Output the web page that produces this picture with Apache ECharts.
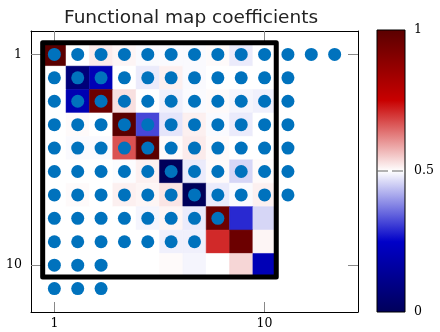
<!DOCTYPE html>
<html>
<head>
<meta charset="utf-8">
<script src="https://cdn.jsdelivr.net/npm/echarts@6/dist/echarts.min.js"></script>
<style>html,body{margin:0;padding:0;background:#fff}#c{width:440px;height:332px}</style>
</head>
<body>
<div id="c"></div>
<script>
// ---- data ----
const titleText = 'Functional map coefficients';
const xTickValues = [1, 10];
const yTickValues = [1, 10];
const cbarTickValues = [0, 0.5, 1];
// coefficient matrix, rows = y (1..10), columns = x (1..10)
const row1  = [1.00, 0.50, 0.52, 0.51, 0.495, 0.495, 0.495, 0.505, 0.48, 0.50];
const row2  = [0.50, 0.07, 0.21, 0.50, 0.48, 0.515, 0.495, 0.50, 0.50, 0.50];
const row3  = [0.50, 0.20, 0.96, 0.53, 0.50, 0.485, 0.495, 0.505, 0.49, 0.485];
const row4  = [0.50, 0.505, 0.50, 1.00, 0.32, 0.475, 0.515, 0.495, 0.48, 0.50];
const row5  = [0.50, 0.495, 0.495, 0.67, 1.00, 0.505, 0.52, 0.505, 0.50, 0.50];
const row6  = [0.50, 0.50, 0.50, 0.497, 0.515, 0.00, 0.48, 0.505, 0.46, 0.505];
const row7  = [0.50, 0.505, 0.50, 0.515, 0.51, 0.525, 0.00, 0.48, 0.495, 0.515];
const row8  = [0.50, 0.50, 0.50, 0.50, 0.49, 0.51, 0.48, 0.96, 0.29, 0.46];
const row9  = [0.50, 0.50, 0.50, 0.50, 0.50, 0.485, 0.485, 0.71, 0.96, 0.51];
const row10 = [0.50, 0.50, 0.50, 0.50, 0.50, 0.505, 0.49, 0.50, 0.54, 0.21];
const matrix = [row1, row2, row3, row4, row5, row6, row7, row8, row9, row10];
// scatter points: number of dots in each row y = 1..11 (dots at x = 1..count)
const dotRowCounts = [13, 11, 11, 11, 11, 11, 11, 8, 7, 3, 3];
const seismic = ['#00005a', '#0000c8', '#ffffff', '#c80000', '#5a0000'];

// ---- build ----
const heatData = [];
matrix.forEach((row, yi) => row.forEach((v, xi) => heatData.push([xi + 1, yi + 1, v])));
const dotData = [];
dotRowCounts.forEach((cnt, yi) => { for (let x = 1; x <= cnt; x++) dotData.push([x, yi + 1]); });
const n = matrix.length;
const boxData = [[0.5, 0.5, n + 0.5, n + 0.5]];

const serif = 'DejaVu Serif';
const chart = echarts.init(document.getElementById('c'));
const tickStyle = { color: '#888', width: 1 };

function rectFrom(api, a, b) {
  const p0 = api.coord(a), p1 = api.coord(b);
  return { x: Math.min(p0[0], p1[0]), y: Math.min(p0[1], p1[1]),
           width: Math.abs(p1[0] - p0[0]), height: Math.abs(p1[1] - p0[1]) };
}

chart.setOption({
  animation: false,
  backgroundColor: '#fff',
  title: { text: titleText, left: 59, top: 4,
    textStyle: { fontFamily: 'DejaVu Sans', fontSize: 18.5, fontWeight: 'normal', color: '#222' } },
  grid: [
    { left: 31, top: 31, width: 327, height: 281, show: false },
    { left: 377, top: 30, width: 28, height: 282, show: false }
  ],
  visualMap: { show: false, type: 'continuous', min: 0, max: 1, dimension: 2, seriesIndex: 0,
    inRange: { color: seismic } },
  xAxis: [
    { type: 'value', gridIndex: 0, min: 0, max: 14, position: 'bottom',
      axisLine: { show: true, onZero: false, lineStyle: { color: '#000', width: 1 } },
      axisTick: { show: true, inside: true, length: 10, customValues: xTickValues, lineStyle: tickStyle },
      axisLabel: { show: true, customValues: xTickValues, fontFamily: serif, fontSize: 12.5, color: '#000', margin: 5 },
      splitLine: { show: false } },
    { type: 'value', gridIndex: 0, min: 0, max: 14, position: 'top',
      axisLine: { show: true, onZero: false, lineStyle: { color: '#000', width: 1 } },
      axisTick: { show: true, inside: true, length: 10, customValues: xTickValues, lineStyle: tickStyle },
      axisLabel: { show: false }, splitLine: { show: false } },
    { type: 'value', gridIndex: 1, min: 0, max: 1, show: false }
  ],
  yAxis: [
    { type: 'value', gridIndex: 0, min: 0, max: 12, inverse: true, position: 'left',
      axisLine: { show: true, onZero: false, lineStyle: { color: '#000', width: 1 } },
      axisTick: { show: true, inside: true, length: 10, customValues: yTickValues, lineStyle: tickStyle },
      axisLabel: { show: true, customValues: yTickValues, fontFamily: serif, fontSize: 12.5, color: '#000', margin: 9 },
      splitLine: { show: false } },
    { type: 'value', gridIndex: 0, min: 0, max: 12, inverse: true, position: 'right',
      axisLine: { show: true, onZero: false, lineStyle: { color: '#000', width: 1 } },
      axisTick: { show: true, inside: true, length: 10, customValues: yTickValues, lineStyle: tickStyle },
      axisLabel: { show: false }, splitLine: { show: false } },
    { type: 'value', gridIndex: 1, min: 0, max: 1, position: 'right',
      axisLine: { show: false },
      axisTick: { show: false },
      axisLabel: { show: true, customValues: cbarTickValues, fontFamily: serif, fontSize: 12.5, color: '#000', margin: 9 },
      splitLine: { show: false } }
  ],
  series: [
    { type: 'custom', xAxisIndex: 0, yAxisIndex: 0, data: heatData, z: 1,
      renderItem: (params, api) => {
        const x = api.value(0), y = api.value(1);
        return { type: 'rect', shape: rectFrom(api, [x - 0.5, y - 0.5], [x + 0.5, y + 0.5]),
                 style: { fill: api.visual('color'), stroke: api.visual('color'), lineWidth: 0.5 } };
      } },
    { type: 'scatter', xAxisIndex: 0, yAxisIndex: 0, data: dotData, symbolSize: 13, z: 3,
      itemStyle: { color: '#0072bd', opacity: 1 } },
    { type: 'custom', xAxisIndex: 0, yAxisIndex: 0, data: boxData, z: 4,
      renderItem: (params, api) => ({ type: 'rect',
        shape: rectFrom(api, [api.value(0), api.value(1)], [api.value(2), api.value(3)]),
        style: { fill: 'none', stroke: '#000', lineWidth: 5, lineJoin: 'round' } }) },
    { type: 'custom', xAxisIndex: 2, yAxisIndex: 2, data: [[0, 0, 1, 1, 0.5]], z: 1,
      renderItem: (params, api) => {
        const r = rectFrom(api, [api.value(0), api.value(1)], [api.value(2), api.value(3)]);
        const mid = api.coord([0, api.value(4)]);
        return { type: 'group', children: [
          { type: 'rect', shape: r,
            style: { fill: new echarts.graphic.LinearGradient(0, 1, 0, 0,
              seismic.map((c, i) => ({ offset: i / (seismic.length - 1), color: c }))),
              stroke: '#000', lineWidth: 1 } },
          { type: 'line', shape: { x1: r.x, y1: mid[1], x2: r.x + r.width, y2: mid[1] },
            style: { stroke: '#666', lineWidth: 1, lineDash: [11, 4] } }
        ] };
      } }
  ]
});
</script>
</body>
</html>
